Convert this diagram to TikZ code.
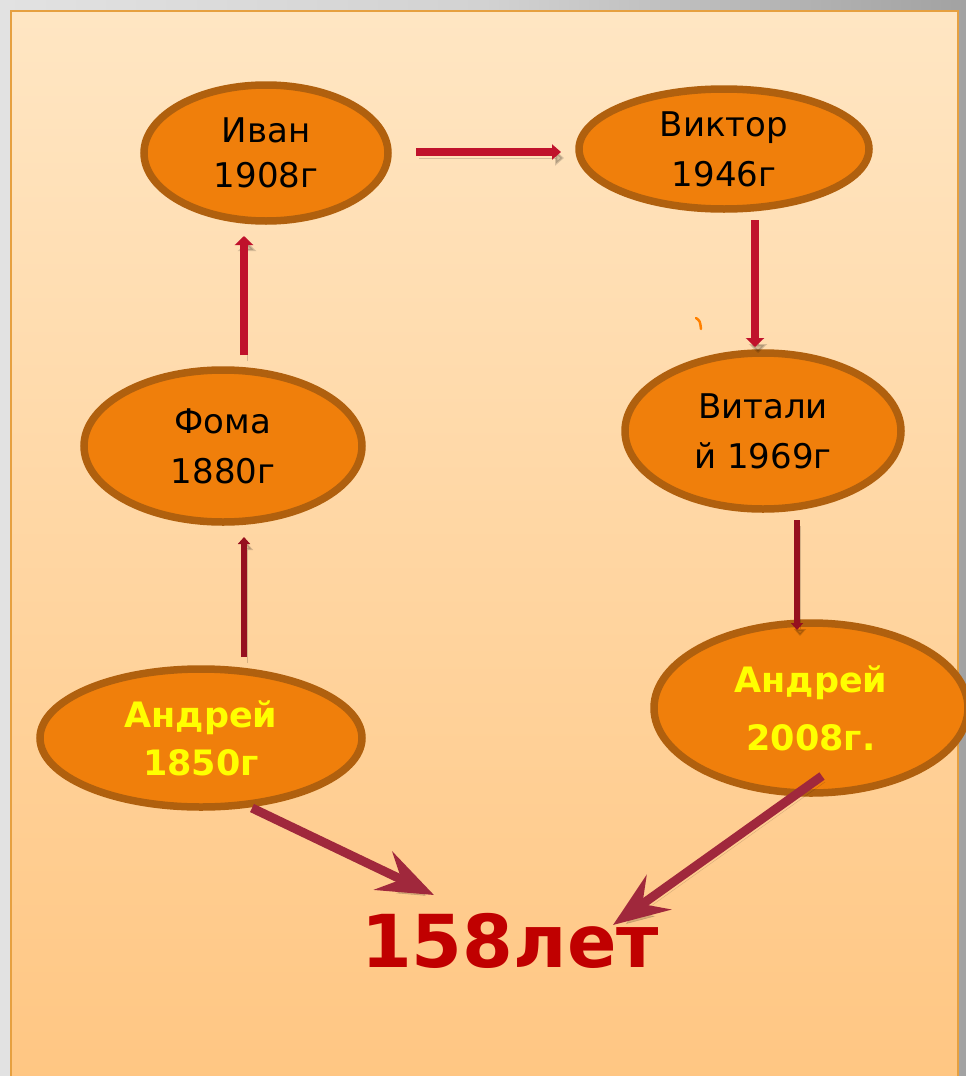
\documentclass[tikz,border=0pt]{standalone}
\usepackage{fontspec}
\setmainfont{DejaVu Sans}
\usetikzlibrary{arrows.meta,shapes.geometric,calc}
\definecolor{bgL}{HTML}{E2E2E2}
\definecolor{bgM}{HTML}{D2D2D2}
\definecolor{bgR}{HTML}{A2A2A2}
\definecolor{slideTop}{HTML}{FFE6C3}
\definecolor{slideBot}{HTML}{FFC682}
\definecolor{slideLine}{HTML}{E6A040}
\definecolor{ovfill}{HTML}{F07F0B}
\definecolor{ovline}{HTML}{B0600E}
\definecolor{arrRed}{HTML}{C0122C}
\definecolor{arrDark}{HTML}{96101F}
\definecolor{bigArr}{HTML}{A0283C}
\definecolor{txtYellow}{HTML}{FFFF00}
\definecolor{txtRed}{HTML}{C00000}
\definecolor{tick}{HTML}{FF8000}
\tikzset{
  oval/.style={ellipse, draw=ovline, fill=ovfill, line width=7.5pt, inner sep=0pt, align=center,
    font=\fontsize{34}{48}\selectfont},
  ovalY/.style={oval, text=txtYellow, font=\fontsize{35}{48}\selectfont\bfseries},
  arrshadow/.style={preaction={draw=black, opacity=0.16, transform canvas={shift={(3pt,-6pt)}}}},
  redarrow/.style={draw=arrRed, line width=8.5pt, -{Triangle[length=9pt,width=18pt]}, arrshadow},
  thinarrow/.style={draw=arrDark, line width=5.5pt, -{Triangle[length=7pt,width=12pt]}, arrshadow},
  bigarrow/.style={draw=bigArr, line width=9pt, -{Stealth[length=56pt,width=42pt,inset=20pt]}, arrshadow},
}
\begin{document}
\begin{tikzpicture}[x=1pt,y=-1pt]
\useasboundingbox (0,0) rectangle (966,1076);
\shade[left color=bgL, right color=bgR, middle color=bgM] (0,0) rectangle (966,1076);
\shade[top color=slideTop, bottom color=slideBot] (11,11) rectangle (958,1090);
\draw[slideLine, line width=2pt] (11,1090) -- (11,11) -- (958,11) -- (958,1090);

\node[oval, minimum width=244pt, minimum height=136pt] (ivan) at (266,153) {Иван\\[-3pt]1908г};
\node[oval, minimum width=290pt, minimum height=120pt] (viktor) at (724,149) {Виктор\\[2pt]1946г};
\node[oval, minimum width=278pt, minimum height=152pt] (foma) at (223,446) {Фома\\[2pt]1880г};
\node[oval, minimum width=276pt, minimum height=156pt] (vitali) at (763,431) {Витали\\[2pt]й 1969г};
\node[ovalY, minimum width=322pt, minimum height=138pt] (andrA) at (201,738) {Андрей\\[0pt]1850г};
\node[ovalY, minimum width=314pt, minimum height=170pt] (andrB) at (811,708) {Андрей\\[10pt]2008г.};
\node[anchor=base, text=txtRed, font=\fontsize{73}{80}\selectfont\bfseries, inner sep=0pt] (years) at (510,967) {158лет};

\coordinate (a1s) at (416,152); \coordinate (a1e) at (561,152);
\coordinate (a2s) at (244,355); \coordinate (a2e) at (244,236);
\coordinate (a3s) at (244,657); \coordinate (a3e) at (244,537);
\coordinate (a4s) at (755,220); \coordinate (a4e) at (755,347);
\coordinate (a5s) at (797,520); \coordinate (a5e) at (797,630);
\coordinate (a6s) at (252,808); \coordinate (a6e) at (434,895);
\coordinate (a7s) at (822,776); \coordinate (a7e) at (613,925);

\draw[redarrow, line width=7.5pt, -{Triangle[length=9pt,width=15pt]}] (a1s) -- (a1e);
\draw[redarrow] (a2s) -- (a2e);
\draw[thinarrow] (a3s) -- (a3e);
\draw[redarrow] (a4s) -- (a4e);
\draw[thinarrow] (a5s) -- (a5e);
\draw[bigarrow] (a6s) -- (a6e);
\draw[bigarrow] (a7s) -- (a7e);

\draw[tick, line width=2.5pt, line cap=round] (696,318) .. controls (700,321) .. (701,329);
\end{tikzpicture}
\end{document}
